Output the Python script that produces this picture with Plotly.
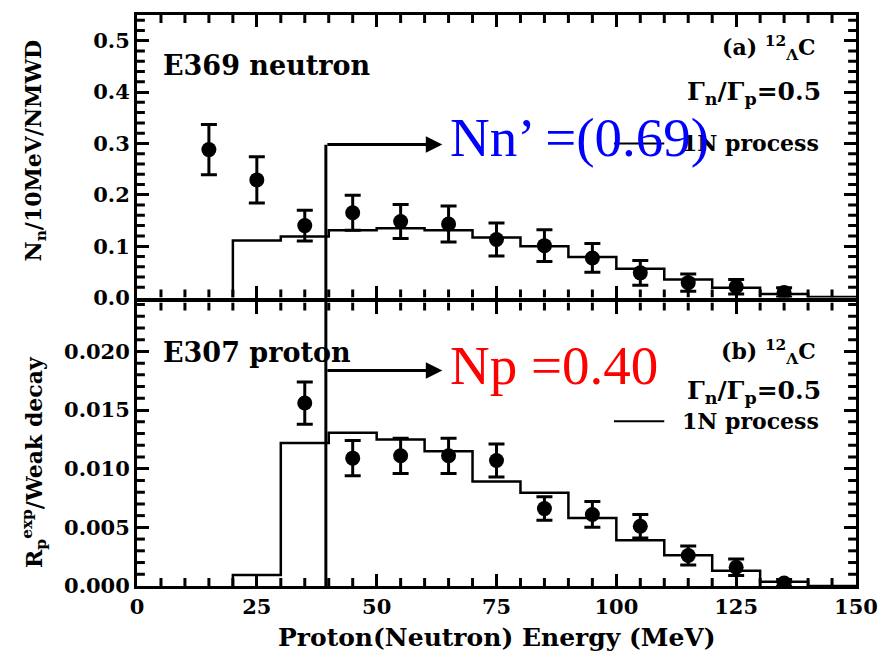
import plotly.graph_objects as go
from plotly.subplots import make_subplots

# ---------------- data ----------------
energy_pts = [15, 25, 35, 45, 55, 65, 75, 85, 95, 105, 115, 125, 135]
neutron_y = [0.288, 0.229, 0.140, 0.165, 0.148, 0.143, 0.113, 0.101, 0.077, 0.048, 0.029, 0.021, 0.010]
neutron_err = [0.049, 0.045, 0.030, 0.034, 0.033, 0.035, 0.032, 0.031, 0.028, 0.024, 0.017, 0.014, 0.009]

proton_x = [35, 45, 55, 65, 75, 85, 95, 105, 115, 125, 135]
proton_y = [0.0156, 0.0109, 0.0111, 0.0111, 0.0107, 0.0066, 0.0061, 0.0051, 0.0026, 0.0016, 0.00026]
proton_err = [0.0018, 0.0015, 0.0015, 0.0015, 0.0014, 0.0010, 0.0011, 0.0010, 0.0008, 0.0007, 0.0003]

bin_lo = [20, 30, 40, 50, 60, 70, 80, 90, 100, 110, 120, 130, 140]
bin_hi_last = 150
hist_neutron = [0.111, 0.119, 0.131, 0.135, 0.131, 0.117, 0.100, 0.079, 0.056, 0.035, 0.019, 0.007, 0.001]
hist_proton = [0.00094, 0.0122, 0.01306, 0.01249, 0.01149, 0.0089, 0.00794, 0.0058, 0.0039, 0.00263, 0.00129, 0.00037, 0.0]

x_range = [0, 150]
top_range = [0, 0.55]
bot_range = [0, 0.02417]
top_dom = [0.5052, 1.0]
bot_dom = [0.0, 0.4965]
x_major, x_minor = 25, 5
top_major, top_minor = 0.1, 0.02
bot_major, bot_minor = 0.005, 0.001

# ---------------- figure ----------------
fig = make_subplots(rows=2, cols=1, shared_xaxes=False, vertical_spacing=0.0)

def step_xy(lo, last_hi, vals):
    xs = [lo[0]] + list(lo) + [last_hi]
    ys = [0] + list(vals) + [vals[-1]]
    return xs, ys

hx, hy = step_xy(bin_lo, bin_hi_last, hist_neutron)
fig.add_trace(go.Scatter(x=hx, y=hy, mode="lines", line=dict(color="black", width=2.5, shape="hv"),
                         showlegend=False, hoverinfo="skip"), row=1, col=1)
hx2, hy2 = step_xy(bin_lo, bin_hi_last, hist_proton)
fig.add_trace(go.Scatter(x=hx2, y=hy2, mode="lines", line=dict(color="black", width=2.5, shape="hv"),
                         showlegend=False, hoverinfo="skip"), row=2, col=1)

fig.add_trace(go.Scatter(x=energy_pts, y=neutron_y, mode="markers",
                         marker=dict(color="black", size=15, symbol="circle"),
                         error_y=dict(type="data", array=neutron_err, color="black", thickness=3, width=8),
                         showlegend=False), row=1, col=1)
fig.add_trace(go.Scatter(x=proton_x, y=proton_y, mode="markers",
                         marker=dict(color="black", size=15, symbol="circle"),
                         error_y=dict(type="data", array=proton_err, color="black", thickness=3, width=8),
                         showlegend=False), row=2, col=1)

tickfont = dict(family="DejaVu Serif", size=21, color="black", weight="bold")
common_x = dict(range=x_range, tickmode="linear", tick0=0, dtick=x_major, ticks="inside", ticklen=12, tickwidth=2.5,
                tickcolor="black", showline=True, linewidth=3, linecolor="black", mirror="ticks",
                showgrid=False, zeroline=False, tickfont=tickfont)
fig.update_xaxes(**common_x)
fig.update_xaxes(showticklabels=False, domain=[0, 1], row=1, col=1)
fig.update_xaxes(domain=[0, 1], row=2, col=1)

common_y = dict(ticks="inside", ticklen=12, tickwidth=2.5, tickcolor="black", tickmode="linear", tick0=0,
                showline=True, linewidth=3, linecolor="black", mirror="ticks", showgrid=False, zeroline=False,
                tickfont=tickfont)
fig.update_yaxes(**common_y)
fig.update_yaxes(range=top_range, dtick=top_major, tickformat=".1f", domain=top_dom, row=1, col=1)
fig.update_yaxes(range=bot_range, dtick=bot_major, tickformat=".3f", domain=bot_dom, row=2, col=1)

# ---------------- minor ticks (inside, on all four sides) ----------------
minor_line = dict(color="black", width=3)
minor_len_px = 8.0
plot_w_px = 731.0
for xa, ya, dom, rng in [("x", "y", top_dom, top_range), ("x2", "y2", bot_dom, bot_range)]:
    panel_h_px = (dom[1] - dom[0]) * 572.0
    dy = minor_len_px / panel_h_px * (rng[1] - rng[0])
    k = 1
    while k * x_minor < x_range[1]:
        v = k * x_minor
        if k % int(x_major / x_minor) != 0:
            fig.add_shape(type="line", xref=xa, yref=ya, x0=v, x1=v, y0=rng[0], y1=rng[0] + dy,
                          line=minor_line, layer="above")
            fig.add_shape(type="line", xref=xa, yref=ya, x0=v, x1=v, y0=rng[1] - dy, y1=rng[1],
                          line=minor_line, layer="above")
        k += 1

dx = minor_len_px / plot_w_px * (x_range[1] - x_range[0])
for xa, ya, rng, mj, mn in [("x", "y", top_range, top_major, top_minor), ("x2", "y2", bot_range, bot_major, bot_minor)]:
    ratio = int(round(mj / mn))
    k = 1
    while k * mn < rng[1]:
        v = k * mn
        if k % ratio != 0:
            fig.add_shape(type="line", xref=xa, yref=ya, x0=x_range[0], x1=x_range[0] + dx, y0=v, y1=v,
                          line=minor_line, layer="above")
            fig.add_shape(type="line", xref=xa, yref=ya, x0=x_range[1] - dx, x1=x_range[1], y0=v, y1=v,
                          line=minor_line, layer="above")
        k += 1

# ---------------- annotations ----------------
cut_x = 39.4
arrow_end = 63.7
top_arrow_y = 0.298
bot_arrow_y = 0.01838

fig.add_shape(type="line", xref="x2", yref="paper", x0=cut_x, x1=cut_x, y0=0, y1=(586 - 144) / 572,
              line=dict(color="black", width=3))
fig.add_annotation(x=arrow_end, y=top_arrow_y, xref="x", yref="y", ax=cut_x, ay=top_arrow_y, axref="x", ayref="y",
                   text="", showarrow=True, arrowhead=2, arrowsize=1.1, arrowwidth=3, arrowcolor="black")
fig.add_annotation(x=arrow_end, y=bot_arrow_y, xref="x2", yref="y2", ax=cut_x, ay=bot_arrow_y, axref="x2", ayref="y2",
                   text="", showarrow=True, arrowhead=2, arrowsize=1.1, arrowwidth=3, arrowcolor="black")

# legend line segments
fig.add_shape(type="line", xref="x", yref="y", x0=99.5, x1=110.0, y0=0.300, y1=0.300, line=dict(color="black", width=2))
fig.add_shape(type="line", xref="x2", yref="y2", x0=99.5, x1=110.0, y0=0.01404, y1=0.01404, line=dict(color="black", width=2))

labfont = dict(family="DejaVu Serif", size=27, color="black", weight="bold")
smallfont = dict(family="DejaVu Serif", size=22, color="black", weight="bold")
gamfont = dict(family="DejaVu Serif", size=25, color="black", weight="bold")

fig.add_annotation(x=5.0, y=0.451, xref="x", yref="y", text="E369 neutron", showarrow=False,
                   xanchor="left", yanchor="middle", font=labfont)
fig.add_annotation(x=5.0, y=0.0199, xref="x2", yref="y2", text="E307 proton", showarrow=False,
                   xanchor="left", yanchor="middle", font=labfont)

for xr, yr, ys in [("x", "y", (0.486, 0.399, 0.300)), ("x2", "y2", (0.01991, 0.01651, 0.01404))]:
    tag = "(a)" if yr == "y" else "(b)"
    fig.add_annotation(x=142.0, y=ys[0], xref=xr, yref=yr, text=tag + " <sup>12</sup><sub>Λ</sub>C",
                       showarrow=False, xanchor="right", yanchor="middle", font=smallfont)
    fig.add_annotation(x=143.2, y=ys[1], xref=xr, yref=yr, text="Γ<sub>n</sub>/Γ<sub>p</sub>=0.5",
                       showarrow=False, xanchor="right", yanchor="middle", font=gamfont)
    fig.add_annotation(x=113.3, y=ys[2], xref=xr, yref=yr, text="1N process",
                       showarrow=False, xanchor="left", yanchor="middle", font=smallfont)

fig.add_annotation(x=64.8, y=0.311, xref="x", yref="y", text="Nn’ =(0.69)", showarrow=False,
                   xanchor="left", yanchor="middle",
                   font=dict(family="Liberation Serif", size=55, color="#0000ff"))
fig.add_annotation(x=64.8, y=0.01881, xref="x2", yref="y2", text="Np =0.40", showarrow=False,
                   xanchor="left", yanchor="middle",
                   font=dict(family="Liberation Serif", size=55, color="#ff0000"))

titlefont = dict(family="DejaVu Serif", size=22, color="black", weight="bold")
fig.add_annotation(x=(33 - 137) / 731, y=(586 - 150) / 572, xref="paper", yref="paper",
                   text="N<sub>n</sub>/10MeV/NMWD", textangle=-90, showarrow=False,
                   xanchor="center", yanchor="middle", font=titlefont)
fig.add_annotation(x=(33 - 137) / 731, y=(586 - 462) / 572, xref="paper", yref="paper",
                   text="R<sub>p</sub><sup>exp</sup>/Weak decay", textangle=-90, showarrow=False,
                   xanchor="center", yanchor="middle", font=titlefont)
fig.add_annotation(x=75, y=(586 - 638) / 572, xref="x2", yref="paper",
                   text="Proton(Neutron) Energy (MeV)", showarrow=False,
                   xanchor="center", yanchor="middle",
                   font=dict(family="DejaVu Serif", size=25, color="black", weight="bold"))

fig.update_layout(width=890, height=657, margin=dict(l=137, r=22, t=14, b=71),
                  paper_bgcolor="white", plot_bgcolor="white", showlegend=False)

fig.write_html("out.html")
